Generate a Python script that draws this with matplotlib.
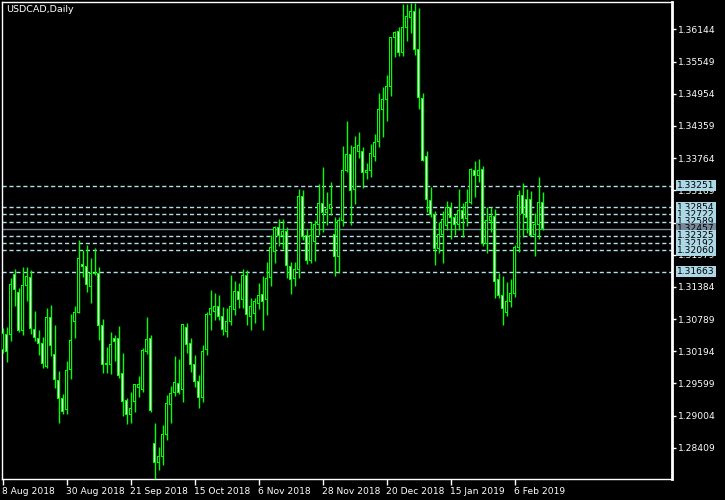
#!/usr/bin/env python

import matplotlib
matplotlib.use('Agg')
import matplotlib.pyplot as plt
import matplotlib.transforms as mtransforms
import pandas as pd


# daily USDCAD candles, 8 Aug 2018 .. 15 Feb 2019
opens = [
    1.30218, 1.30508, 1.30508, 1.31617, 1.31284, 1.30570, 1.31407, 1.31561, 1.30600, 1.30434,
    1.30342, 1.29910, 1.30822, 1.30138, 1.29658, 1.29325, 1.29122, 1.29861, 1.30742, 1.30914,
    1.31789, 1.31758, 1.31389, 1.31623, 1.31635, 1.30668, 1.29966, 1.29954, 1.30434, 1.30434,
    1.29787, 1.29276, 1.29030, 1.29264, 1.29522, 1.29479, 1.30188, 1.30434, 1.28494, 1.28142,
    1.28247, 1.28648, 1.29214, 1.29436, 1.29602, 1.29479, 1.30637, 1.30329, 1.29941, 1.29627,
    1.29331, 1.30218, 1.30865, 1.30926, 1.31013, 1.30834, 1.30557, 1.30742, 1.30970, 1.31308,
    1.31142, 1.31598, 1.30834, 1.30896, 1.31080, 1.31247, 1.31142, 1.31561, 1.32035, 1.32485,
    1.32343, 1.32417, 1.31770, 1.31542, 1.31709, 1.33052, 1.32325, 1.31869, 1.32220, 1.32546,
    1.32928, 1.32756, 1.32836, 1.32355, 1.31955, 1.32608, 1.33544, 1.33822, 1.33175, 1.33883,
    1.33883, 1.33495, 1.33532, 1.33791, 1.34068, 1.34666, 1.34838, 1.35084, 1.35996, 1.36101,
    1.35713, 1.36181, 1.36366, 1.36470, 1.35774, 1.34869, 1.33791, 1.32984, 1.32725, 1.32097,
    1.32361, 1.32510, 1.32855, 1.32670, 1.32546, 1.32787, 1.32651, 1.32941, 1.33532, 1.33440,
    1.33557, 1.32189, 1.32608, 1.32682, 1.31524, 1.31234, 1.30914, 1.31111, 1.31253, 1.32115,
    1.33082, 1.33002, 1.33002, 1.32361, 1.32546, 1.32947,
]
highs = [
    1.30619, 1.30650, 1.31555, 1.31715, 1.31358, 1.31746, 1.31746, 1.31697, 1.30939, 1.30582,
    1.30459, 1.31001, 1.31050, 1.30680, 1.29830, 1.29399, 1.30015, 1.30884, 1.31032, 1.32251,
    1.32066, 1.32158, 1.31912, 1.32103, 1.31758, 1.30791, 1.30280, 1.30545, 1.30496, 1.30662,
    1.30163, 1.29338, 1.29448, 1.29584, 1.29738, 1.30249, 1.30822, 1.30496, 1.28863, 1.28432,
    1.28833, 1.29387, 1.29553, 1.30108, 1.30052, 1.30699, 1.30711, 1.30440, 1.30126, 1.29756,
    1.30310, 1.30920, 1.31327, 1.31265, 1.31234, 1.31019, 1.30988, 1.31604, 1.31493, 1.31462,
    1.31709, 1.31696, 1.31185, 1.31173, 1.31450, 1.31586, 1.31850, 1.32343, 1.32510, 1.32633,
    1.32633, 1.32497, 1.31850, 1.31850, 1.33187, 1.33175, 1.32448, 1.32590, 1.32620, 1.33286,
    1.33594, 1.33132, 1.33329, 1.32682, 1.32670, 1.33988, 1.34450, 1.34006, 1.34173, 1.34240,
    1.33976, 1.33668, 1.34025, 1.34210, 1.34961, 1.35072, 1.35300, 1.35996, 1.36119, 1.36181,
    1.36612, 1.36612, 1.36637, 1.36637, 1.36532, 1.34961, 1.33896, 1.33224, 1.32793, 1.32590,
    1.32787, 1.32972, 1.32953, 1.32725, 1.33193, 1.32928, 1.33193, 1.33578, 1.33711, 1.33748,
    1.33625, 1.32867, 1.32855, 1.32824, 1.31647, 1.31592, 1.31468, 1.31530, 1.32158, 1.33175,
    1.33310, 1.33193, 1.33156, 1.32744, 1.33421, 1.33144,
]
lows = [
    1.30157, 1.30003, 1.30385, 1.31038, 1.30545, 1.30496, 1.31130, 1.30508, 1.30385, 1.30126,
    1.29880, 1.29892, 1.30114, 1.29522, 1.28876, 1.29030, 1.29030, 1.29676, 1.30446, 1.30896,
    1.31574, 1.31284, 1.31093, 1.31604, 1.30403, 1.29800, 1.29787, 1.29769, 1.30015, 1.29707,
    1.29005, 1.28845, 1.28863, 1.29079, 1.29356, 1.29448, 1.30151, 1.29079, 1.27840, 1.28001,
    1.28093, 1.28555, 1.28863, 1.29374, 1.29399, 1.29264, 1.30157, 1.29811, 1.29534, 1.29146,
    1.29257, 1.30126, 1.30588, 1.30772, 1.30772, 1.30495, 1.30464, 1.30680, 1.30865, 1.30988,
    1.30988, 1.30680, 1.30588, 1.30711, 1.30970, 1.30588, 1.30865, 1.31401, 1.31820, 1.32140,
    1.32078, 1.31542, 1.31253, 1.31401, 1.31542, 1.32251, 1.31807, 1.31820, 1.31869, 1.32343,
    1.32405, 1.32528, 1.32713, 1.31586, 1.31635, 1.32510, 1.33514, 1.32528, 1.32916, 1.33772,
    1.33206, 1.33378, 1.33421, 1.33717, 1.33976, 1.34148, 1.34456, 1.34912, 1.35639, 1.35657,
    1.35651, 1.35935, 1.36082, 1.35670, 1.34672, 1.33717, 1.32774, 1.32670, 1.31789, 1.32017,
    1.31832, 1.32436, 1.32263, 1.32343, 1.32436, 1.32312, 1.32510, 1.32916, 1.33052, 1.33329,
    1.32140, 1.32017, 1.32405, 1.31185, 1.31173, 1.30680, 1.30846, 1.31019, 1.31204, 1.32035,
    1.32312, 1.32374, 1.32330, 1.31961, 1.32263, 1.32436,
]
closes = [
    1.30526, 1.30188, 1.31420, 1.31340, 1.30570, 1.31407, 1.31580, 1.30619, 1.30446, 1.30342,
    1.29972, 1.30822, 1.30292, 1.29676, 1.29325, 1.29079, 1.29830, 1.30397, 1.30914, 1.31900,
    1.31758, 1.31432, 1.31635, 1.31635, 1.30668, 1.29954, 1.29941, 1.30311, 1.30372, 1.29744,
    1.29264, 1.29030, 1.29140, 1.29572, 1.29572, 1.30200, 1.30416, 1.29091, 1.28142, 1.28241,
    1.28660, 1.29233, 1.29418, 1.29621, 1.29436, 1.30680, 1.30323, 1.29941, 1.29627, 1.29331,
    1.30181, 1.30865, 1.30988, 1.31013, 1.30834, 1.30588, 1.30742, 1.31031, 1.31296, 1.31142,
    1.31598, 1.30865, 1.31019, 1.31111, 1.31216, 1.31111, 1.31542, 1.32115, 1.32485, 1.32343,
    1.32417, 1.31783, 1.31512, 1.31709, 1.33052, 1.32312, 1.31869, 1.32325, 1.32546, 1.32928,
    1.32756, 1.32818, 1.32910, 1.31955, 1.32620, 1.33532, 1.33822, 1.33162, 1.33957, 1.34006,
    1.33495, 1.33544, 1.33852, 1.34056, 1.34666, 1.34838, 1.35084, 1.35990, 1.36088, 1.35719,
    1.36181, 1.36378, 1.36470, 1.35774, 1.34887, 1.33729, 1.32990, 1.32725, 1.32097, 1.32355,
    1.32633, 1.32855, 1.32670, 1.32546, 1.32787, 1.32651, 1.32947, 1.33557, 1.33434, 1.33526,
    1.32189, 1.32620, 1.32694, 1.31493, 1.31216, 1.30988, 1.31111, 1.31253, 1.32115, 1.33082,
    1.32744, 1.32670, 1.32343, 1.32546, 1.32947, 1.32457,
]

holidays = ['2018-12-25', '2019-01-01']
tick_days = ['2018-08-08', '2018-08-30', '2018-09-21', '2018-10-15', '2018-11-06',
             '2018-11-28', '2018-12-20', '2019-01-15', '2019-02-06']
price_ticks = [1.28409, 1.29004, 1.29599, 1.30194, 1.30789, 1.31384, 1.31979,
               1.32574, 1.33169, 1.33764, 1.34359, 1.34954, 1.35549, 1.36144]
levels_above = [1.33251, 1.32854, 1.32722, 1.32589]
levels_below = [1.32325, 1.32192, 1.32060, 1.31663]


def plot_chart():
    days = pd.bdate_range('2018-08-08', '2019-02-15')
    days = days[~days.isin(pd.to_datetime(holidays))]
    x = list(range(len(days)))

    fig = plt.figure(figsize=(7.25, 5), dpi=100, facecolor='black')
    ax = fig.add_axes([2 / 725, 21 / 500, 670 / 725, 477 / 500])
    ax.set_facecolor('black')
    ax.set_xlim(-0.125, 167.375)
    ax.set_ylim(1.27834, 1.36649)

    # one screen pixel in price units
    px = (1.36649 - 1.27834) / 477

    green = '#00ff00'
    ax.vlines(x, lows, highs, color=green, lw=1, zorder=3)

    # body: 3px green block, with a 1px white (down) or black (up) core
    bottoms = [min(o, c) - px / 2 for o, c in zip(opens, closes)]
    heights = [abs(c - o) + px for o, c in zip(opens, closes)]
    ax.bar(x, heights, bottom=bottoms, width=0.75, color=green,
           linewidth=0, zorder=4)
    core_b = [b + px for b in bottoms]
    core_h = [max(h - 2 * px, 0) for h in heights]
    fills = ['white' if c < o else 'black' for o, c in zip(opens, closes)]
    ax.bar(x, core_h, bottom=core_b, width=0.25, color=fills,
           linewidth=0, zorder=5)

    trans = mtransforms.blended_transform_factory(ax.transAxes, ax.transData)

    def label(price, fc):
        ax.text(1.0075, price, '%.5f' % price, transform=trans, fontsize=6.6,
                color='black', va='center', ha='left', clip_on=False, zorder=6,
                bbox=dict(boxstyle='square,pad=0.12', fc=fc, ec='none'))

    for lv in levels_above + levels_below:
        ax.axhline(lv, color='#b0e0e6', lw=1, ls=(0, (3, 2)), zorder=2)
    ax.axhline(closes[-1], color='#778899', lw=1, zorder=2)

    for lv in levels_above:
        label(lv, '#add8e6')
    label(closes[-1], '#778899')
    for lv in levels_below:
        label(lv, '#add8e6')

    ax.yaxis.tick_right()
    ax.set_yticks(price_ticks)
    ax.set_yticklabels(['%.5f' % p for p in price_ticks])
    ax.tick_params(axis='y', colors='white', length=3, width=1, labelsize=6.6, pad=1)

    tick_pos = [days.get_loc(pd.Timestamp(d)) for d in tick_days]
    tick_lbl = [pd.Timestamp(d).strftime('%d %b %Y').lstrip('0') for d in tick_days]
    ax.set_xticks(tick_pos)
    ax.set_xticklabels(tick_lbl, ha='left')
    ax.tick_params(axis='x', colors='white', length=4, width=1, labelsize=6.6, pad=2)

    for name, sp in ax.spines.items():
        sp.set_color('white')
        sp.set_linewidth(2 if name == 'right' else 1)

    fig.text(6 / 725, 1 - 9 / 500, 'USDCAD,Daily', color='white', fontsize=6.8,
             va='center', ha='left')

    fig.savefig('out.png', dpi=100, facecolor='black')


if __name__ == '__main__':
    plot_chart()
